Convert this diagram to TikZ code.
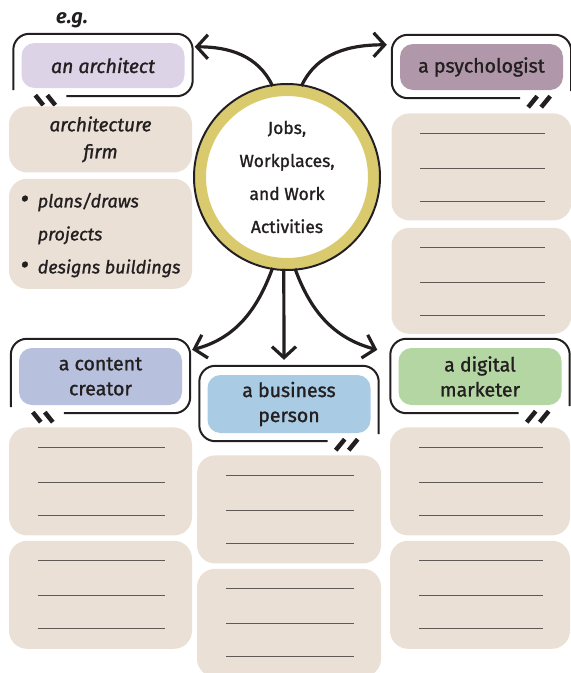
\documentclass[tikz,border=0pt]{standalone}
\usepackage{fontspec}
\setmainfont{Fira Sans}[UprightFeatures={FakeBold=1.2}, ItalicFeatures={FakeBold=1.2}]
\usetikzlibrary{positioning, calc, arrows.meta}
\definecolor{inkblack}{HTML}{231F20}
\definecolor{notebeige}{HTML}{EAE0D6}
\definecolor{archlilac}{HTML}{DDD3E6}
\definecolor{psychmauve}{HTML}{B097A9}
\definecolor{contentblue}{HTML}{B7C0DC}
\definecolor{businessblue}{HTML}{A9CBE3}
\definecolor{marketergreen}{HTML}{B3D6A3}
\definecolor{ringyellow}{HTML}{D9CA6E}
\definecolor{linegray}{HTML}{605A57}
\tikzstyle{hub} = [circle, draw=ringyellow, line width=11pt, fill=white, minimum size=173pt, inner sep=0, align=center, text=inkblack, font=\fontsize{17.5}{33}\selectfont]
\tikzstyle{bubble} = [rounded corners=13pt, minimum width=163pt, inner sep=0, align=center, text=inkblack, font=\fontsize{19.5}{25}\selectfont]
\tikzstyle{bubbleline} = [line width=2pt, draw=inkblack, rounded corners=16pt]
\tikzstyle{tailmark} = [line width=4.5pt, draw=inkblack]
\tikzstyle{notebox} = [fill=notebeige, rounded corners=18pt, inner sep=0, align=center, text=inkblack]
\tikzstyle{writeline} = [line width=1.3pt, draw=linegray]
\tikzstyle{arrow} = [line width=3.2pt, draw=inkblack, -{Straight Barb[length=11pt, width=24pt]}]
\newcommand{\bubbleleft}[1]{
    \draw[bubbleline] ($(#1.south west)+(45,-8)$) -- ($(#1.south east)+(8,-8)$) -- ($(#1.north east)+(8,9)$) -- ($(#1.north west)+(-8,9)$) -- ($(#1.south west)+(-8,-2)$);
    \draw[tailmark] ($(#1.south west)+(14,-7)$) -- ($(#1.south west)+(22,-17)$);
    \draw[tailmark] ($(#1.south west)+(26,-7)$) -- ($(#1.south west)+(34,-17)$);
}
\newcommand{\bubbleright}[1]{
    \draw[bubbleline] ($(#1.south east)+(8,-1)$) -- ($(#1.north east)+(8,9)$) -- ($(#1.north west)+(-8,9)$) -- ($(#1.south west)+(-8,-8)$) -- ($(#1.south east)+(-43,-8)$);
    \draw[tailmark] ($(#1.south east)+(-35,-17)$) -- ($(#1.south east)+(-26,-6)$);
    \draw[tailmark] ($(#1.south east)+(-22,-17)$) -- ($(#1.south east)+(-13,-6)$);
}
\newcommand{\writelines}[1]{
    \foreach \dy in {20,55,88}
        \draw[writeline] ($(#1.north west)+(29,-\dy)$) -- ($(#1.north east)+(-27,-\dy)$);
}
\newcommand{\bigbullet}{{\fontsize{26}{33}\selectfont\textbullet}}

\begin{document}
\begin{tikzpicture}[x=1pt, y=1pt]
    \useasboundingbox (0,0) rectangle (571,-673);

    % centre
    \node[hub] (hub) at (287,-177) {Jobs,\\Workplaces,\\and Work\\Activities};
    \draw[line width=2pt, draw=inkblack] (hub.center) circle[radius=93];

    % jobs
    \node[bubble, fill=archlilac, minimum height=45pt, font=\fontsize{19.5}{25}\selectfont\itshape] (arch) at (103,-65.5) {an architect};
    \node[bubble, fill=psychmauve, minimum height=46pt] (psych) at (481.5,-67) {a psychologist};
    \node[bubble, fill=contentblue, minimum height=57pt] (content) at (100.5,-376.5) {a content\\creator};
    \node[bubble, fill=businessblue, minimum height=58pt] (business) at (289,-404) {a business\\person};
    \node[bubble, fill=marketergreen, minimum height=57pt] (marketer) at (480,-376.5) {a digital\\marketer};
    \bubbleleft{arch}
    \bubbleright{psych}
    \bubbleleft{content}
    \bubbleright{business}
    \bubbleright{marketer}
    \node[text=inkblack, font=\fontsize{20}{22}\selectfont\bfseries\itshape] (eg) at (72,-20) {e.g.};

    % workplace and activities
    \node[notebox, minimum width=183pt, minimum height=66pt, below=18pt of arch, xshift=-2.5pt, font=\fontsize{19}{27}\selectfont\itshape] (firm) {architecture\\firm};
    \node[notebox, minimum width=183pt, minimum height=110pt, below=6pt of firm, font=\fontsize{18}{33}\selectfont\itshape] (tasks) {%
        \begin{tabular}{@{}l@{\hspace{9pt}}l@{}}
            \bigbullet & plans/draws\\
             & projects\\
            \bigbullet & designs buildings
        \end{tabular}};
    \node[notebox, minimum width=180pt, minimum height=107pt, below=23pt of psych] (psychA) {};
    \node[notebox, minimum width=180pt, minimum height=106pt, below=7pt of psychA] (psychB) {};
    \node[notebox, minimum width=183pt, minimum height=108pt, below=22pt of content] (contentA) {};
    \node[notebox, minimum width=183pt, minimum height=108pt, below=5pt of contentA] (contentB) {};
    \node[notebox, minimum width=184pt, minimum height=108pt, below=22pt of business] (businessA) {};
    \node[notebox, minimum width=184pt, minimum height=108pt, below=5pt of businessA] (businessB) {};
    \node[notebox, minimum width=180pt, minimum height=108pt, below=22pt of marketer] (marketerA) {};
    \node[notebox, minimum width=180pt, minimum height=108pt, below=5pt of marketerA] (marketerB) {};
    \writelines{psychA}
    \writelines{psychB}
    \writelines{contentA}
    \writelines{contentB}
    \writelines{businessA}
    \writelines{businessB}
    \writelines{marketerA}
    \writelines{marketerB}

    % arrows
    \draw[arrow] (hub.99) to[out=115, in=0] ($(arch.north east)+(10,-4)$);
    \draw[arrow] (hub.81) to[out=65, in=180] ($(psych.north west)+(-13,-1)$);
    \draw[arrow] (hub.261) to[out=250, in=15] ($(content.north east)+(10,-2)$);
    \draw[arrow] (hub.268) -- ($(business.north)+(-5,15)$);
    \draw[arrow] (hub.275) to[out=290, in=165] ($(marketer.north west)+(-21,-2)$);
\end{tikzpicture}
\end{document}
